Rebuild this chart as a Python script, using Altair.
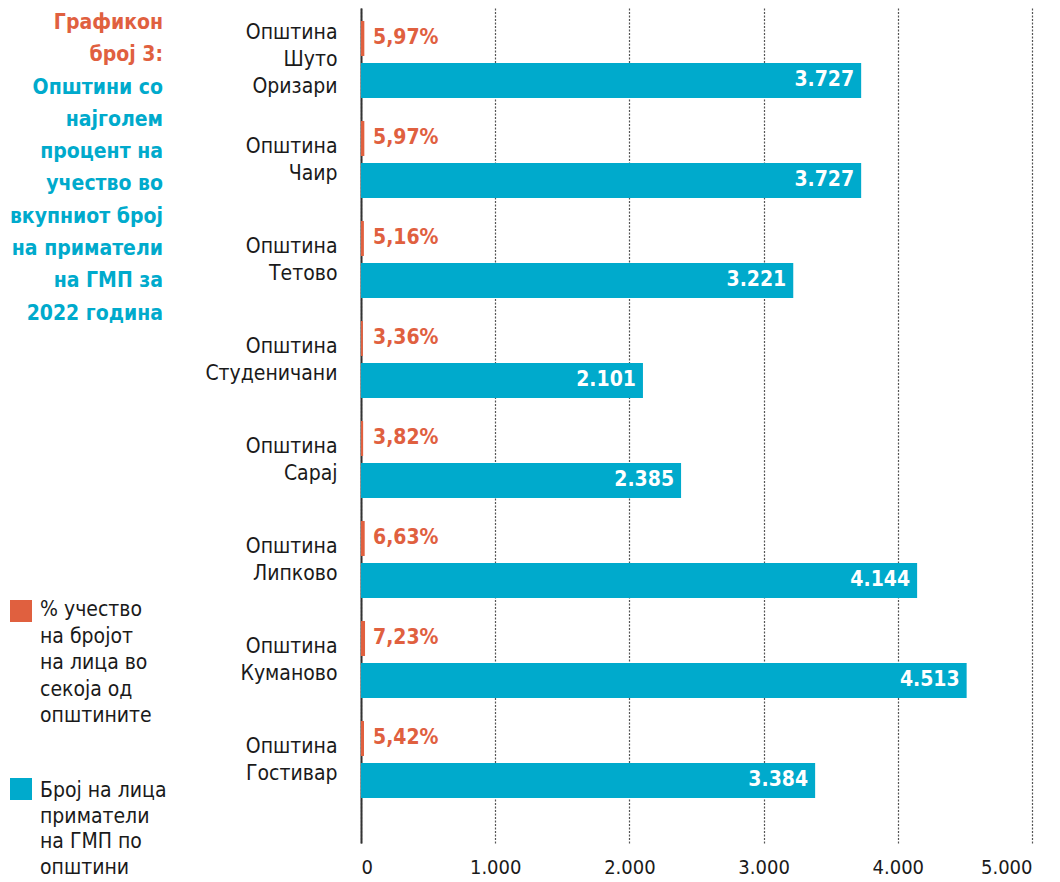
import altair as alt
import pandas as pd

municipalities = [
    "Општина|Шуто|Оризари",
    "Општина|Чаир",
    "Општина|Тетово",
    "Општина|Студеничани",
    "Општина|Сарај",
    "Општина|Липково",
    "Општина|Куманово",
    "Општина|Гостивар",
]
counts = [3727, 3727, 3221, 2101, 2385, 4144, 4513, 3384]
percents = [5.97, 5.97, 5.16, 3.36, 3.82, 6.63, 7.23, 5.42]
x_ticks = [0, 1000, 2000, 3000, 4000, 5000]

title_orange = ["Графикон", "број 3:"]
title_blue = ["Општини со", "најголем", "процент на", "учество во",
              "вкупниот број", "на приматели", "на ГМП за", "2022 година"]
legend_pct = ["% учество", "на бројот", "на лица во", "секоја од", "општините"]
legend_cnt = ["Број на лица", "приматели", "на ГМП по", "општини"]

ORANGE = "#E0603F"
BLUE = "#00AACC"
FONT = "DejaVu Sans Condensed, Liberation Sans Narrow, Roboto, sans-serif"

df = pd.DataFrame({
    "label": municipalities,
    "count": counts,
    "pct": percents,
})
df["count_label"] = [f"{v:,}".replace(",", ".") for v in counts]
df["pct_label"] = [f"{p:.2f}".replace(".", ",") + "%" for p in percents]

LH = 27
y_enc = alt.Y(
    "label:N",
    sort=municipalities,
    title=None,
    scale=alt.Scale(paddingInner=0, paddingOuter=0.175, align=0),
    axis=alt.Axis(
        labelExpr="split(datum.label, '|')",
        labelFont=FONT, labelFontSize=21, labelColor="#1a1a1a",
        labelLineHeight=LH, labelPadding=24, ticks=False,
        labelOffset=alt.condition(
            "length(split(datum.label, '|')) == 3",
            alt.value(-LH + 2),
            alt.value(-LH / 2 + 2),
        ),
        domain=True, domainColor="#333333", domainWidth=2,
        grid=False,
    ),
)
yoff_scale = alt.Scale(domain=["pct", "count"], paddingInner=0.1667,
                       paddingOuter=0.274, align=0.565)

base = alt.Chart(df)

blue_bars = base.transform_calculate(s="'count'").mark_bar(color=BLUE).encode(
    y=y_enc,
    yOffset=alt.YOffset("s:N", scale=yoff_scale),
    x=alt.X(
        "count:Q", title=None,
        scale=alt.Scale(domain=[0, 5000], nice=False),
        axis=alt.Axis(
            values=x_ticks, labelExpr="replace(datum.label, ',', '.')",
            labelFont=FONT, labelFontSize=20, labelColor="#1a1a1a",
            labelPadding=14, ticks=False, domain=False,
            grid=True, gridDash=[2, 1.5], gridColor="#555555", gridWidth=1.2,
        ),
    ),
)

blue_text = base.transform_calculate(s="'count'").mark_text(
    align="right", baseline="middle", dx=-7, color="white",
    font=FONT, fontSize=21, fontWeight="bold",
).encode(
    y=y_enc,
    yOffset=alt.YOffset("s:N", scale=yoff_scale),
    x=alt.X("count:Q", scale=alt.Scale(domain=[0, 5000], nice=False), axis=None),
    text="count_label:N",
)

orange_bars = base.transform_calculate(s="'pct'").mark_bar(color=ORANGE).encode(
    y=y_enc,
    yOffset=alt.YOffset("s:N", scale=yoff_scale),
    x=alt.X("pct:Q", scale=alt.Scale(domain=[0, 1200], nice=False), axis=None),
)

orange_text = base.transform_calculate(s="'pct'").mark_text(
    align="left", baseline="middle", color=ORANGE,
    font=FONT, fontSize=21, fontWeight="bold",
).encode(
    y=y_enc,
    yOffset=alt.YOffset("s:N", scale=yoff_scale),
    x=alt.value(12),
    text="pct_label:N",
)

one = pd.DataFrame({"k": [0]})

title1 = alt.Chart(one).mark_text(
    text=title_orange, align="right", baseline="top", color=ORANGE,
    font=FONT, fontSize=21, fontWeight="bold", lineHeight=32.3,
).encode(x=alt.value(-198), y=alt.value(4))

title2 = alt.Chart(one).mark_text(
    text=title_blue, align="right", baseline="top", color=BLUE,
    font=FONT, fontSize=21, fontWeight="bold", lineHeight=32.3,
).encode(x=alt.value(-198), y=alt.value(68.6))

leg_sq1 = alt.Chart(one).mark_rect(color=ORANGE).encode(
    x=alt.value(-351), x2=alt.value(-329), y=alt.value(592), y2=alt.value(614))
leg_sq2 = alt.Chart(one).mark_rect(color=BLUE).encode(
    x=alt.value(-351), x2=alt.value(-329), y=alt.value(770), y2=alt.value(792))

leg_t1 = alt.Chart(one).mark_text(
    text=legend_pct, align="left", baseline="top", color="#1a1a1a",
    font=FONT, fontSize=21, lineHeight=26.6,
).encode(x=alt.value(-321), y=alt.value(591))
leg_t2 = alt.Chart(one).mark_text(
    text=legend_cnt, align="left", baseline="top", color="#1a1a1a",
    font=FONT, fontSize=21, lineHeight=25.6,
).encode(x=alt.value(-321), y=alt.value(772))

chart = alt.layer(
    blue_bars, blue_text, orange_bars, orange_text,
    title1, title2, leg_sq1, leg_sq2, leg_t1, leg_t2,
).resolve_scale(x="independent").properties(
    width=671, height=835,
    autosize=alt.AutoSizeParams(type="none"),
    padding={"left": 353, "top": 0, "right": 20, "bottom": 38},
).configure_view(stroke=None)

chart.save("out.html", embed_options={"renderer": "svg", "actions": False})
